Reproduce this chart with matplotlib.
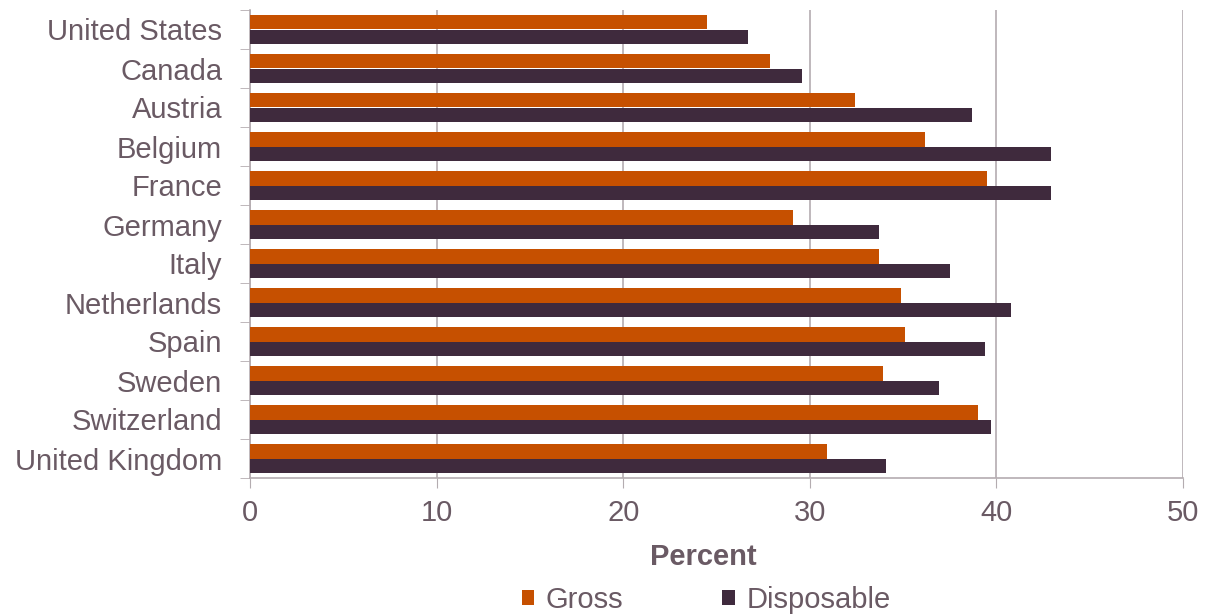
import numpy as np
import matplotlib
matplotlib.use('Agg')
import matplotlib.pyplot as plt

countries = ['United States', 'Canada', 'Austria', 'Belgium', 'France', 'Germany',
             'Italy', 'Netherlands', 'Spain', 'Sweden', 'Switzerland', 'United Kingdom']
gross = [24.5, 27.85, 32.4, 36.2, 39.5, 29.1, 33.7, 34.9, 35.1, 33.9, 39.0, 30.9]
disposable = [26.7, 29.6, 38.7, 42.9, 42.9, 33.7, 37.5, 40.8, 39.4, 36.9, 39.7, 34.1]
xticks = [0, 10, 20, 30, 40, 50]

plt.rcParams['font.family'] = ['Liberation Sans', 'DejaVu Sans']
txt = '#6A5A64'
grid_col = '#B4ACB0'
fs = 21

fig = plt.figure(figsize=(12.05, 6.14), dpi=100)
ax = fig.add_axes([250 / 1205, 1 - 478 / 614, 933 / 1205, 468 / 614])

y = np.arange(len(countries))
h = 0.372
ax.barh(y - h / 2, gross, height=h, color='#C65000', label='Gross', zorder=3)
ax.barh(y + h / 2, disposable, height=h, color='#3F2A3D', label='Disposable', zorder=3)

ax.set_xlim(0, 50)
ax.set_ylim(len(countries) - 0.5, -0.5)
ax.set_xticks(xticks)
ax.set_xticklabels([str(v) for v in xticks])
ax.set_yticks(y)
ax.set_yticklabels(countries)
# small ticks between the country groups
ax.set_yticks(np.arange(len(countries) + 1) - 0.5, minor=True)

ax.tick_params(axis='y', which='major', length=0, pad=20, labelsize=fs, labelcolor=txt)
ax.tick_params(axis='y', which='minor', length=7, color=grid_col, direction='out')
ax.tick_params(axis='x', length=7, color=grid_col, pad=8, labelsize=fs, labelcolor=txt)

ax.grid(axis='x', color=grid_col, linewidth=1.2, zorder=0)
for s in ['top', 'right']:
    ax.spines[s].set_visible(False)
for s in ['left', 'bottom']:
    ax.spines[s].set_color(grid_col)
    ax.spines[s].set_linewidth(1.2)

# axis title sits a bit left of the axes centre in the original
fig.text(703 / 1205, 1 - 557 / 614, 'Percent', fontsize=fs, fontweight='bold', color=txt,
         ha='center', va='center')

fig.legend(loc='center', bbox_to_anchor=(706 / 1205, 1 - 600 / 614), ncol=2, frameon=False,
           fontsize=fs, labelcolor=txt, handlelength=0.42, handleheight=0.42,
           handletextpad=0.4, columnspacing=3.4)

fig.savefig('out.png', dpi=100)
